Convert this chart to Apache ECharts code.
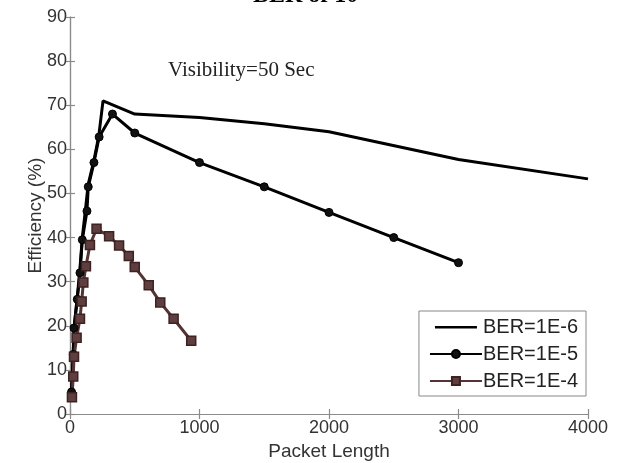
<!DOCTYPE html>
<html>
<head>
<meta charset="utf-8">
<script src="https://cdn.jsdelivr.net/npm/echarts@6/dist/echarts.min.js"></script>
<style>
  html, body { margin: 0; padding: 0; background: #fff; }
  #chart { width: 624px; height: 463px; }
</style>
</head>
<body>
<div id="chart"></div>
<script>
// 图表数据：包长 vs 效率
const seriesNames = ['BER=1E-6', 'BER=1E-5', 'BER=1E-4'];
const xTicks = [0, 1000, 2000, 3000, 4000];
const yTicks = [0, 10, 20, 30, 40, 50, 60, 70, 80, 90];

// [包长, 效率%]
const ber6 = [[12, 5], [25, 14], [31, 19.5], [56, 26.5], [77, 33], [95, 40], [120, 46.5], [140, 52], [185, 57.5], [222, 63], [255, 71], [500, 68], [1000, 67.2], [1500, 65.8], [2000, 64], [3000, 57.7], [4000, 53.3]];
const ber5 = [[12, 5], [25, 13.5], [31, 19.5], [56, 26], [77, 32], [95, 39.5], [131, 46], [141, 51.5], [185, 57], [225, 62.8], [328, 68], [500, 63.7], [1000, 57], [1500, 51.5], [2000, 45.7], [2500, 40], [3000, 34.3]];
const ber4 = [[15, 3.8], [25, 8.5], [31, 13], [51, 17.3], [77, 21.6], [90, 25.5], [103, 29.8], [123, 33.5], [154, 38.3], [205, 42], [302, 40.3], [379, 38.2], [454, 35.8], [500, 33.3], [608, 29.2], [697, 25.3], [800, 21.6], [936, 16.6]];

const chart = echarts.init(document.getElementById('chart'));

const axisLineStyle = { color: '#8a8a8a', width: 1.2 };
const sans = 'Liberation Sans, Arial, sans-serif';
const serif = 'Liberation Serif, Times New Roman, serif';
const tickFont = { fontFamily: sans, fontSize: 18, color: '#333' };

// 图例中纯线条图标（带透明边界点，保证线条细）
const plainLineIcon = 'path://M0,0 M0,4 L42,4 L42,6.5 L0,6.5 Z M42,10';

const option = {
    backgroundColor: '#fff',
    animation: false,
    title: {
        text: 'BER of 10',
        left: 248,
        top: -21,
        textStyle: { fontFamily: serif, fontSize: 24, fontWeight: 'bold', color: '#000' }
    },
    grid: { left: 70, right: 36, top: 17, bottom: 49, outerBoundsMode: 'none', containLabel: false },
    legend: {
        orient: 'vertical',
        right: 38,
        top: 311,
        data: [
            { name: seriesNames[0], icon: plainLineIcon },
            { name: seriesNames[1] },
            { name: seriesNames[2] }
        ],
        itemWidth: 52,
        itemHeight: 10,
        itemGap: 7,
        padding: [6, 8, 5, 10],
        borderColor: '#888',
        borderWidth: 1,
        backgroundColor: '#fff',
        textStyle: { fontFamily: sans, fontSize: 20, color: '#222', padding: [0, 0, 0, -4] }
    },
    graphic: [{
        type: 'text',
        left: 168,
        top: 60,
        style: { text: 'Visibility=50 Sec', fontFamily: serif, fontSize: 21, fill: '#222' }
    }],
    xAxis: [{
        type: 'value',
        min: 0, max: 4000, interval: 1000,
        name: 'Packet Length',
        nameLocation: 'middle',
        nameGap: 28,
        nameTextStyle: { fontFamily: sans, fontSize: 19, color: '#333' },
        axisLine: { show: true, lineStyle: axisLineStyle },
        axisTick: { show: true, inside: true, length: 5, lineStyle: axisLineStyle },
        axisLabel: Object.assign({ margin: 5, formatter: v => String(v) }, tickFont),
        splitLine: { show: false }
    }, {
        type: 'value',
        position: 'top',
        min: 0, max: 4000, interval: 1000,
        axisLine: { show: true, lineStyle: axisLineStyle },
        axisTick: { show: true, inside: true, length: 5, lineStyle: axisLineStyle },
        axisLabel: { show: false },
        splitLine: { show: false }
    }],
    yAxis: [{
        type: 'value',
        min: 0, max: 90, interval: 10,
        name: 'Efficiency (%)',
        nameLocation: 'middle',
        nameGap: 25,
        nameMoveOverlap: false,
        nameTextStyle: { fontFamily: sans, fontSize: 19, color: '#333' },
        axisLine: { show: true, lineStyle: axisLineStyle },
        axisTick: { show: true, inside: true, length: 5, lineStyle: axisLineStyle },
        axisLabel: Object.assign({ margin: 3 }, tickFont),
        splitLine: { show: false }
    }, {
        type: 'value',
        position: 'right',
        min: 0, max: 90, interval: 10,
        axisLine: { show: true, lineStyle: axisLineStyle },
        axisTick: { show: true, inside: true, length: 5, lineStyle: axisLineStyle },
        axisLabel: { show: false },
        splitLine: { show: false }
    }],
    series: [{
        name: seriesNames[0],
        type: 'line',
        data: ber6,
        showSymbol: false,
        symbol: 'none',
        lineStyle: { color: '#000', width: 3 },
        itemStyle: { color: '#000' }
    }, {
        name: seriesNames[1],
        type: 'line',
        data: ber5,
        symbol: 'circle',
        symbolSize: 8,
        lineStyle: { color: '#000', width: 3 },
        itemStyle: { color: '#111', borderColor: '#000', borderWidth: 1 }
    }, {
        name: seriesNames[2],
        type: 'line',
        data: ber4,
        symbol: 'rect',
        symbolSize: 9,
        lineStyle: { color: '#553434', width: 3 },
        itemStyle: { color: '#5e3e3e', borderColor: '#3e2222', borderWidth: 1.5 }
    }]
};

chart.setOption(option);
</script>
</body>
</html>
